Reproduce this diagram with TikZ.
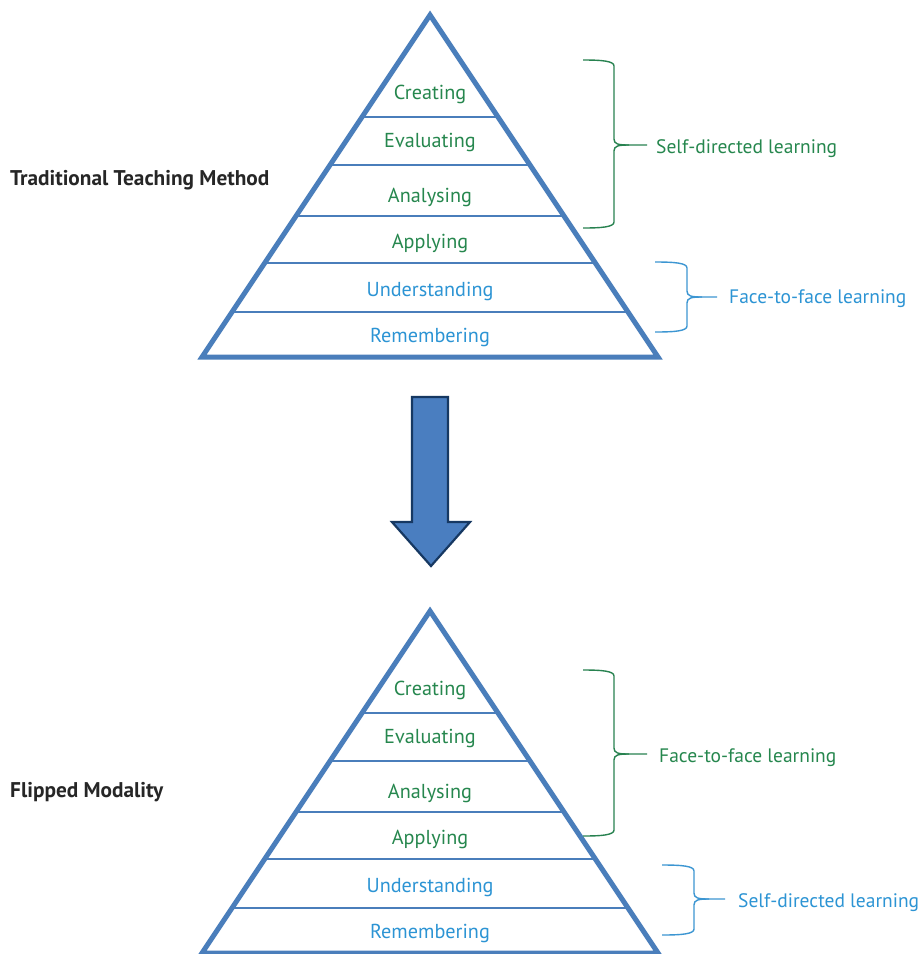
\documentclass[tikz,border=0pt]{standalone}
\usepackage{fontspec}
\setmainfont{PT Sans}
\definecolor{pyrblue}{RGB}{74,126,187}
\definecolor{txgreen}{RGB}{38,135,78}
\definecolor{txblue}{RGB}{44,148,212}
\definecolor{brgreen}{RGB}{40,130,80}
\definecolor{brblue}{RGB}{60,150,210}
\definecolor{arrfill}{RGB}{74,126,192}
\definecolor{arrdraw}{RGB}{22,56,98}
\newcommand\curlybr[7]{%
  % #1 x of ends, #2 x of spine, #3 top y, #4 mid y, #5 bottom y, #6 tip x, #7 colour
  \draw[bracestyle,#7] (#1,#3) .. controls (#2-12,#3) and (#2,#3+1) .. (#2,#3+6)
    -- (#2,#4-6) .. controls (#2,#4-1) and (#2+4,#4) .. (#2+15,#4) -- (#6,#4);
  \draw[bracestyle,#7] (#1,#5) .. controls (#2-12,#5) and (#2,#5-1) .. (#2,#5-6)
    -- (#2,#4+6) .. controls (#2,#4+1) and (#2+4,#4) .. (#2+15,#4);
}
\tikzset{
  pyrline/.style={draw=pyrblue, line width=2.2pt},
  pyrouter/.style={draw=pyrblue, line width=5pt, line join=miter},
  lvl/.style={anchor=base, font=\fontsize{20.2}{24}\selectfont, inner sep=0pt},
  lvlg/.style={lvl, text=txgreen},
  lvlb/.style={lvl, text=txblue},
  side/.style={anchor=base west, font=\fontsize{19.5}{23}\selectfont, inner sep=0pt},
  title/.style={anchor=base west, font=\bfseries\fontsize{21.3}{25}\selectfont, inner sep=0pt, text=black!85},
  bracestyle/.style={line width=1.4pt},
}
\begin{document}
\begin{tikzpicture}[x=1pt,y=-1pt]
\useasboundingbox[fill=white] (0,0) rectangle (921,954);

% ---------- pyramid (drawn twice) ----------
\foreach \off/\pre in {0/a-,596/b-}{
  \begin{scope}[shift={(0,\off)}, name prefix=\pre]
    \foreach \yy in {117,165,216,263,312}{
      \draw[pyrline] ({430-(\yy-15)*2/3},\yy) -- ({430+(\yy-15)*2/3},\yy);
    }
    \coordinate (apex) at (430,15);
    \coordinate (bl) at (202,357);
    \coordinate (br) at (658,357);
    \draw[pyrouter] (apex) -- (br) -- (bl) -- cycle;
    \node[lvlg] (creating) at (430,99) {Creating};
    \node[lvlg] (evaluating) at (430,147) {Evaluating};
    \node[lvlg] (analysing) at (430,202) {Analysing};
    \node[lvlg] (applying) at (430,248) {Applying};
    \node[lvlb] (understanding) at (430,296) {Understanding};
    \node[lvlb] (remembering) at (430,342) {Remembering};
  \end{scope}
}

% ---------- titles ----------
\node[title] (trad) at (10,185) {Traditional Teaching Method};
\node[title] (flip) at (10,797) {Flipped Modality};

% ---------- brackets top ----------
\curlybr{583}{614}{60}{145}{228}{647}{brgreen}
\node[side, text=txgreen] (sdl1) at (656,153) {Self-directed learning};
\curlybr{655}{687}{262}{297}{332}{717}{brblue}
\node[side, text=txblue] (ftf1) at (729,303) {Face-to-face learning};

% ---------- brackets bottom ----------
\curlybr{583}{614}{670}{754}{836}{647}{brgreen}
\node[side, text=txgreen] (ftf2) at (659,762) {Face-to-face learning};
\curlybr{662}{694}{865}{899}{935}{725}{brblue}
\node[side, text=txblue] (sdl2) at (738,907) {Self-directed learning};

% ---------- big arrow ----------
\draw[fill=arrfill, draw=arrdraw, line width=2.2pt, line join=miter]
  (412,397) -- (448,397) -- (448,522) -- (470,522) -- (431,566) -- (392,522) -- (412,522) -- cycle;
\end{tikzpicture}
\end{document}
